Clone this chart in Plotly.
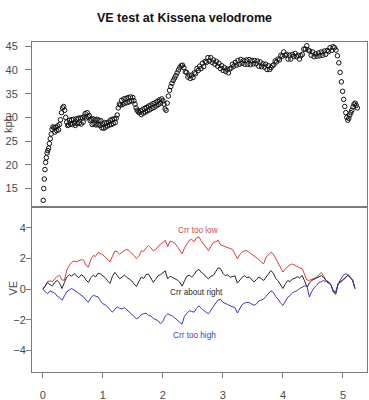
import numpy as np
import plotly.graph_objects as go

# ---------------- data ----------------
title_text = "VE test at Kissena velodrome"

# speed samples (kph), one every 2 s; distance (km) is the running sum of speed*time
sample_interval_s = 2.0
speed_kph = [
    12.5, 15, 17, 19, 20.5, 21.5, 22.5, 23, 23.5, 24.5, 25.5, 26.5, 27.5, 28,
    27.8, 26.9, 27.9, 27.2, 28.2, 27.4, 28.5,
    29.5, 31, 32, 32.3,
    31.5, 30, 29, 28.3,
    28.4, 29.4, 28.6, 29.5, 28.5, 29.6, 28.8, 28.3,
    29.7, 28.7, 29.8, 28.8, 29.9, 28.6, 29.9, 29, 30.2,
    30.8, 29.9, 31, 30.1, 30.4, 29.3,
    29.6, 28.5, 29.7, 28.6, 29.5, 28.4, 29.6, 28.5, 29.4, 28.3, 29.3,
    27.8, 28.6, 27.7, 28.9, 27.9, 28.8, 28.2, 29,
    28.4, 29.4, 28.5, 29.6, 28.7, 29.7, 28.9, 29.8,
    30.5, 32, 32.8,
    32.6, 33.6, 32.7, 33.9, 33, 34, 33.1, 34.2, 33.3, 34.3, 33.5, 34.2,
    33.5, 32.8, 32, 31.5, 31.2, 31,
    31.4, 30.6, 31.6, 30.9, 31.9, 31.1, 32.1, 31.4, 32.4, 31.6, 32.6, 31.9, 32.9, 32.1,
    33.1, 32.4, 33.4, 32.7, 33.7, 33, 33.9, 33.5,
    32.8, 31.8, 31.5,
    33, 34.5, 35.7, 36.5, 37.2, 37.8, 38.3, 38.8, 39.4, 40, 40.5, 40.9, 41,
    40.5, 39.6, 39.5, 38.5, 38.9, 38.2, 38.9, 38.4,
    39.4, 39.2, 40.3, 39.9, 40.8, 40.3, 41.4, 40.7, 41.8, 41.6, 42.6, 41.9, 42.6,
    41.6, 42.1, 41.2, 41.8, 40.8, 41.4, 40.3, 40.9, 39.9, 40.5, 39.7, 40.2, 39.4,
    40.2, 40.4, 41.2, 40.8, 41.6, 41, 42, 41.2, 42.2, 41.4, 42,
    41.2, 42.1, 41.2, 42.2, 41.1, 42, 41.3, 42, 41.3, 41.9,
    40.8, 41.7, 40.7, 41.3, 40.6, 41.2, 40.1, 40.9, 40.1, 40.5,
    40.9, 41.1, 41.9, 41.7, 42.3,
    42.1, 43.1, 42.9, 43.8, 43.1,
    43.3, 42.3, 43.1, 42.3,
    43.3, 42.9, 43.5, 42.8,
    43.1, 42.3, 43,
    43.3, 44.4, 44.4, 45.1, 44.2,
    44, 43.1, 43.8,
    42.8, 43.4, 42.9, 43.6,
    43, 43.8,
    43.1, 44, 43.3, 44.1,
    43.9, 44.7, 44.1, 44.9, 44.7,
    44.2, 43, 41.5, 39.5, 37.5, 35.5, 33.8, 32.3, 31, 30, 29.4, 29.8, 30.5,
    31, 31.5, 32.2, 32.8, 33, 32.5, 32,
]

# virtual elevation (VE) read every 0.04 km from 0 to 5.2 km
ve_step_km = 0.04
ve_crr_low = [
    0.00, 0.20, 0.50, 0.55, 0.50, 0.70, 0.85, 0.90, 0.60, 0.60,
    1.25, 1.55, 1.75, 1.85, 1.78, 1.85, 1.95, 1.90, 1.55, 1.45,
    1.95, 2.20, 2.15, 2.40, 2.35, 2.25, 2.10, 1.95, 1.78, 2.15,
    2.50, 2.45, 2.30, 2.42, 2.55, 2.62, 2.50, 2.38, 2.20, 2.00,
    2.15, 2.50, 2.48, 2.70, 2.85, 2.70, 2.50, 2.60, 2.80, 2.95,
    3.05, 3.20, 2.78, 3.15, 3.10, 3.00, 2.80, 2.55, 2.30, 2.70,
    3.00, 3.20, 3.25, 3.10, 3.35, 3.42, 3.15, 2.95, 2.70, 2.52,
    2.80, 3.05, 3.10, 3.20, 2.90, 2.85, 2.78, 2.72, 2.65, 2.60,
    2.30, 2.00, 2.25, 2.45, 2.50, 2.52, 2.40, 2.30, 2.15, 2.05,
    1.95, 1.75, 1.68, 2.10, 2.25, 2.42, 2.30, 2.00, 1.70, 1.40,
    1.12, 1.35, 1.50, 1.60, 1.65, 1.55, 1.45, 1.40, 1.35, 1.00,
    0.60, 0.58, 0.65, 0.70, 0.78, 0.95, 1.10, 0.85, 0.57, 0.45,
    0.28, -0.20, -0.35, 0.36, 0.45, 0.57, 0.75, 0.90, 0.75, 0.60,
    0.05,
]
ve_crr_right = [
    0.00, 0.25, 0.45, 0.30, 0.22, 0.45, 0.58, 0.40, 0.05, 0.45,
    0.80, 0.95, 0.85, 1.02, 0.85, 0.75, 0.95, 0.85, 0.60, 0.45,
    0.75, 0.92, 0.80, 1.05, 1.00, 0.88, 0.75, 0.55, 0.38, 0.85,
    1.10, 0.90, 0.68, 0.80, 0.92, 0.78, 0.65, 0.55, 0.35, 0.18,
    0.50, 0.80, 0.70, 0.95, 1.00, 0.70, 0.45, 0.65, 0.88, 0.95,
    1.10, 1.20, 0.68, 0.85, 0.78, 0.70, 0.60, 0.47, 0.20, 0.55,
    0.85, 0.92, 0.80, 0.95, 1.20, 1.30, 1.10, 1.00, 0.80, 0.68,
    0.85, 0.90, 1.15, 1.40, 1.35, 1.05, 0.88, 0.95, 0.78, 0.85,
    0.88, 0.40, 0.60, 0.78, 0.90, 0.75, 0.80, 0.62, 0.47, 0.65,
    0.80, 0.70, 0.57, 0.80, 1.00, 1.22, 1.05, 0.70, 0.55, 0.30,
    0.05, 0.35, 0.57, 0.50, 0.68, 0.72, 0.82, 0.75, 0.90, 0.55,
    0.15, 0.40, 0.58, 0.65, 0.75, 0.82, 0.90, 0.75, 0.57, 0.48,
    0.28, -0.15, -0.25, 0.36, 0.50, 0.68, 0.80, 0.90, 0.80, 0.60,
    0.05,
]
ve_crr_high = [
    0.00, -0.15, -0.30, -0.10, -0.20, -0.25, -0.45, -0.55, -0.72, -0.45,
    -0.15, -0.05, 0.05, -0.05, -0.15, -0.25, -0.40, -0.50, -0.70, -0.85,
    -0.55, -0.40, -0.45, -0.50, -0.75, -0.95, -1.00, -1.17, -1.40, -1.50,
    -1.30, -1.15, -1.25, -1.28, -1.20, -1.35, -1.45, -1.65, -1.75, -1.92,
    -1.85, -1.65, -1.60, -1.55, -1.70, -1.75, -1.90, -1.95, -2.05, -2.25,
    -2.10, -1.75, -1.60, -1.68, -1.75, -1.88, -2.00, -2.15, -2.28, -1.75,
    -1.55, -1.40, -1.45, -1.50, -1.25, -1.08, -1.25, -1.40, -1.50, -1.60,
    -1.35, -1.15, -0.90, -0.70, -0.65, -0.85, -0.95, -1.00, -1.08, -1.12,
    -1.20, -1.55, -1.30, -1.00, -0.90, -0.85, -0.88, -0.95, -1.05, -0.95,
    -0.75, -0.70, -0.63, -0.45, -0.30, -0.10, -0.20, -0.48, -0.65, -0.90,
    -1.05, -0.80, -0.52, -0.40, -0.22, -0.15, -0.08, 0.05, 0.15, 0.22,
    0.20, -0.50, -0.15, 0.10, 0.25, 0.45, 0.50, 0.57, 0.50, 0.40,
    0.30, -0.10, -0.15, 0.36, 0.65, 0.90, 1.00, 0.98, 0.80, 0.60,
    0.05,
]
series_labels = ["Crr too low", "Crr about right", "Crr too high"]
label_pos_km = [2.58, 2.56, 2.53]
label_pos_ve = [3.84, -0.19, -3.02]

speed_ticks = [15, 20, 25, 30, 35, 40, 45]
ve_ticks = [-4, -2, 0, 2, 4]
dist_ticks = [0, 1, 2, 3, 4, 5]

# ---------------- derived coordinates ----------------
dist_speed_km = np.cumsum(np.array(speed_kph) * sample_interval_s / 3600.0)
ve_dist_km = np.arange(len(ve_crr_right)) * ve_step_km

FONT = "Liberation Sans, Arial, sans-serif"
FRAME = "#7a7a7a"
TICKTXT = "#4a4a4a"
colors = ["#dd3a3a", "#262626", "#3838c4"]
label_colors = ["#d04848", "#2a2a2a", "#4040c0"]

fig = go.Figure()
fig.add_trace(go.Scatter(
    x=dist_speed_km, y=speed_kph, mode="markers",
    marker=dict(symbol="circle-open", size=4.5, color="#111111", line=dict(width=1)),
    xaxis="x2", yaxis="y2", showlegend=False, hoverinfo="skip"))
for vals, col in zip([ve_crr_low, ve_crr_right, ve_crr_high], colors):
    fig.add_trace(go.Scatter(
        x=ve_dist_km, y=vals, mode="lines", line=dict(color=col, width=1),
        xaxis="x", yaxis="y", showlegend=False, hoverinfo="skip"))

for txt, xk, yv, col in zip(series_labels, label_pos_km, label_pos_ve, label_colors):
    fig.add_annotation(x=xk, y=yv, xref="x", yref="y", text=txt, showarrow=False,
                       font=dict(family=FONT, size=8.2, color=col))

axis_common = dict(showgrid=False, zeroline=False, showline=True, mirror=True,
                   automargin=False,
                   linecolor=FRAME, linewidth=1, ticks="outside", tickcolor=FRAME,
                   tickwidth=1, tickfont=dict(family=FONT, size=11, color=TICKTXT))

fig.update_layout(
    width=369, height=400,
    margin=dict(l=32, r=2, t=42, b=28, autoexpand=False),
    paper_bgcolor="white", plot_bgcolor="white",
    showlegend=False,
    title=dict(text="<b>" + title_text + "</b>", x=0.5, xref="container", xanchor="center",
               y=1 - 17.5 / 400, yref="container", yanchor="middle",
               font=dict(family=FONT, size=12.5, color="#111111")),
    xaxis=dict(domain=[0, 1], anchor="y", range=[-0.18, 5.40], tickvals=dist_ticks,
               ticklen=5, ticklabelstandoff=8, **axis_common),
    yaxis=dict(domain=[0, 0.5], anchor="x", range=[-5.4, 5.37], tickvals=ve_ticks,
               ticklen=5, ticklabelstandoff=-2, **axis_common),
    xaxis2=dict(domain=[0, 1], anchor="y2", matches="x", range=[-0.18, 5.40],
                showticklabels=False, showgrid=False, zeroline=False, showline=True,
                automargin=False,
                mirror=True, linecolor=FRAME, linewidth=1, ticks=""),
    yaxis2=dict(domain=[0.5, 1], anchor="x2", range=[11.1, 45.9], tickvals=speed_ticks,
                ticklen=6, ticklabelstandoff=5, **axis_common),
)

fig.add_annotation(text="kph", xref="paper", yref="paper", x=-0.0716, y=0.7515,
                   textangle=-90, showarrow=False, xanchor="center", yanchor="middle",
                   font=dict(family=FONT, size=11, color=TICKTXT))
fig.add_annotation(text="VE", xref="paper", yref="paper", x=-0.0552, y=0.2545,
                   textangle=-90, showarrow=False, xanchor="center", yanchor="middle",
                   font=dict(family=FONT, size=11, color=TICKTXT))

fig.write_html("out.html", config={"displayModeBar": False},
               post_script="document.body.style.margin='0px';document.body.style.padding='0px';")
